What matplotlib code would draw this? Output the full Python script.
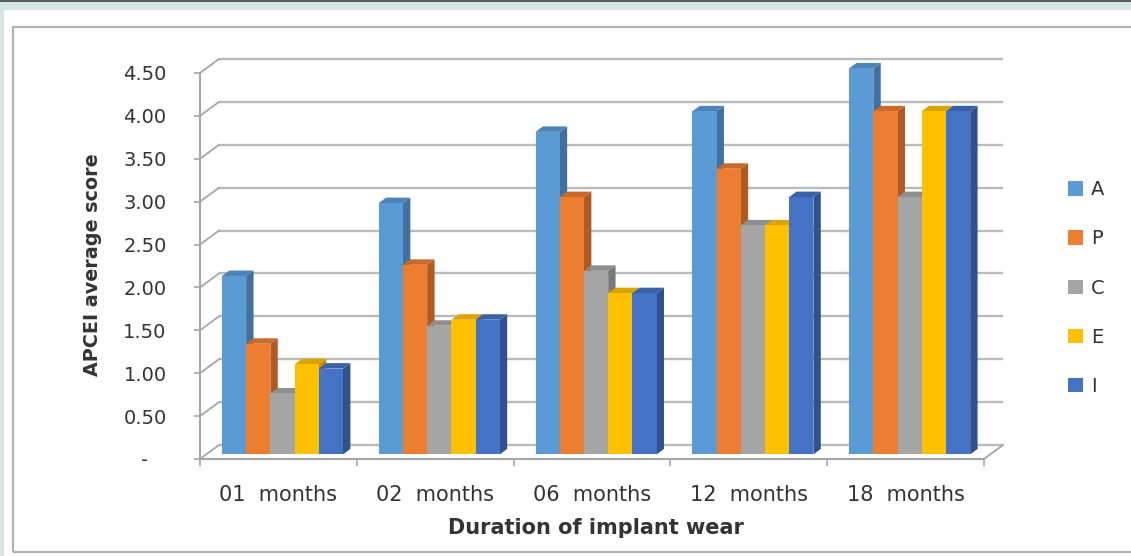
import matplotlib

matplotlib.use("Agg")
import matplotlib.pyplot as plt  # noqa: E402
from matplotlib.lines import Line2D  # noqa: E402
from matplotlib.patches import Patch, Polygon, Rectangle  # noqa: E402

# --- data -------------------------------------------------------------------
categories = ["01  months", "02  months", "06  months", "12  months", "18  months"]
series = ["A", "P", "C", "E", "I"]
a_vals = [2.08, 2.93, 3.76, 4.00, 4.50]
p_vals = [1.29, 2.21, 3.00, 3.33, 4.00]
c_vals = [0.71, 1.50, 2.14, 2.67, 3.00]
e_vals = [1.05, 1.57, 1.88, 2.67, 4.00]
i_vals = [1.00, 1.57, 1.88, 3.00, 4.00]
y_ticks = [0.0, 0.5, 1.0, 1.5, 2.0, 2.5, 3.0, 3.5, 4.0, 4.5]
y_ticklabels = ["-   ", "0.50", "1.00", "1.50", "2.00", "2.50", "3.00", "3.50", "4.00", "4.50"]

values = [a_vals, p_vals, c_vals, e_vals, i_vals]

# --- styling ----------------------------------------------------------------
front_col = ["#5B9BD5", "#ED7D31", "#A5A5A5", "#FFC000", "#4472C4"]
side_col = ["#41719C", "#AE5A21", "#7A7A7A", "#BA8C00", "#2F528F"]
top_col = ["#4D84B8", "#C96A28", "#8E8E8E", "#D9A300", "#3A61A7"]
grid_col = "#BABABA"
axis_col = "#A6A6A6"
text_col = "#333333"

W, H = 1131, 556
DX, DY = 0.121, 0.163        # depth of the 3-D box in data units
F0, F1 = 0.33, 0.72          # bar front/back depth fractions
BAR_W = 0.1544
GROUP_START = -0.40

fig = plt.figure(figsize=(W / 100, H / 100), dpi=100)
fig.patch.set_facecolor("#D4E6E4")

# page frame
fig.add_artist(Rectangle((4 / W, 0), 1, 1 - 10 / H, transform=fig.transFigure,
                         facecolor="white", edgecolor="none", zorder=0))
fig.add_artist(Line2D([0, 1], [1 - 0.5 / H] * 2, transform=fig.transFigure,
                      color="#444444", lw=1.2))
fig.add_artist(Rectangle((13 / W, 1 - 552 / H), 1.2, (552 - 27) / H,
                         transform=fig.transFigure, facecolor="none",
                         edgecolor="#B3B3B3", lw=1.6, zorder=1))

ax = fig.add_axes([200 / W, 1 - 459 / H, 784 / W, 386 / H])
ax.set_xlim(-0.5, 4.5)
ax.set_ylim(0, 4.5)
ax.patch.set_alpha(0)
for s in ("top", "right"):
    ax.spines[s].set_visible(False)
for s in ("left", "bottom"):
    ax.spines[s].set_color(axis_col)
    ax.spines[s].set_linewidth(1.5)

# back wall gridlines + side wall diagonals
for v in y_ticks:
    ax.plot([-0.5 + DX, 4.5 + DX], [v + DY, v + DY], color=grid_col, lw=1.7,
            clip_on=False, zorder=1, solid_capstyle="butt")
    ax.plot([-0.5, -0.5 + DX], [v, v + DY], color=axis_col, lw=1.3,
            clip_on=False, zorder=1)
ax.plot([4.5, 4.5 + DX], [0, DY], color=axis_col, lw=1.3, clip_on=False, zorder=1)

# 3-D bars
for i in range(len(categories)):
    for j in range(len(series)):
        v = values[j][i]
        x0 = i + GROUP_START + j * BAR_W
        x1 = x0 + BAR_W
        a0x, a0y = F0 * DX, F0 * DY
        a1x, a1y = F1 * DX, F1 * DY
        z = 3 + j
        front = Polygon([(x0 + a0x, a0y), (x1 + a0x, a0y), (x1 + a0x, v + a0y),
                         (x0 + a0x, v + a0y)], closed=True, facecolor=front_col[j],
                        edgecolor="none", clip_on=False, zorder=z + 0.2)
        side = Polygon([(x1 + a0x, a0y), (x1 + a1x, a1y), (x1 + a1x, v + a1y),
                        (x1 + a0x, v + a0y)], closed=True, facecolor=side_col[j],
                       edgecolor="none", clip_on=False, zorder=z)
        top = Polygon([(x0 + a0x, v + a0y), (x1 + a0x, v + a0y), (x1 + a1x, v + a1y),
                       (x0 + a1x, v + a1y)], closed=True, facecolor=top_col[j],
                      edgecolor="none", clip_on=False, zorder=z + 0.1)
        for p in (side, top, front):
            ax.add_patch(p)

# ticks
ax.set_yticks(y_ticks)
ax.set_yticklabels(y_ticklabels)
ax.set_xticks(range(len(categories)))
ax.set_xticklabels(categories)
ax.set_xticks([k - 0.5 for k in range(len(categories) + 1)], minor=True)
ax.tick_params(axis="y", length=4.5, width=1.2, color=axis_col, pad=19.5,
               labelsize=14, labelcolor=text_col)
ax.tick_params(axis="x", which="major", length=0, pad=19, labelsize=15,
               labelcolor=text_col)
ax.tick_params(axis="x", which="minor", length=5, width=1.2, color=axis_col)

fig.text(93 / W, 1 - 265 / H, "APCEI average score", rotation=90, ha="center",
         va="center", fontsize=13.8, fontweight="bold", color=text_col)
fig.text(596 / W, 1 - 528 / H, "Duration of implant wear", ha="center",
         va="center", fontsize=15, fontweight="bold", color=text_col)

handles = [Patch(facecolor=c, edgecolor="none") for c in front_col]
fig.legend(handles, series, loc="center left",
           bbox_to_anchor=(1068 / W, 1 - 288 / H), frameon=False,
           borderpad=0, borderaxespad=0, handlelength=0.75, handleheight=0.75,
           handletextpad=0.45, labelspacing=1.55, fontsize=14,
           labelcolor=text_col)

fig.savefig("out.png", dpi=100)
